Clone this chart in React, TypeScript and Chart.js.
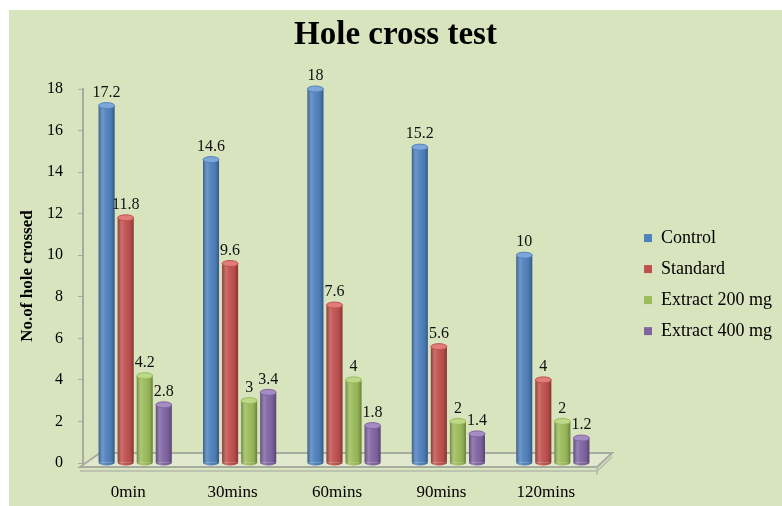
import React, { useEffect, useRef } from 'react';
import { Chart, registerables } from 'chart.js';

Chart.register(...registerables);

const categories = ['0min', '30mins', '60mins', '90mins', '120mins'];
const seriesNames = ['Control', 'Standard', 'Extract 200 mg', 'Extract 400 mg'];
const control = [17.2, 14.6, 18, 15.2, 10];
const standard = [11.8, 9.6, 7.6, 5.6, 4];
const extract200 = [4.2, 3, 4, 2, 2];
const extract400 = [2.8, 3.4, 1.8, 1.4, 1.2];
const seriesColors = ['#4f81bd', '#c0504d', '#9bbb59', '#8064a2'];
const capColors = ['#7ea6d8', '#e07c79', '#bcd98a', '#a48cc4'];
const yMin = 0;
const yMax = 18;
const yStep = 2;
const titleText = 'Hole cross test';
const yAxisTitle = 'No.of hole crossed';

const SERIF = '"Liberation Serif", "Times New Roman", serif';
const BG = '#d7e4bd';

const floorPlugin = {
  id: 'floor3d',
  beforeDatasetsDraw(chart: any) {
    const { ctx, chartArea: a } = chart;
    ctx.save();
    ctx.beginPath();
    ctx.moveTo(a.left - 3, a.bottom + 4);
    ctx.lineTo(a.left + 17, a.bottom - 10);
    ctx.lineTo(a.right + 7, a.bottom - 10);
    ctx.lineTo(a.right - 8, a.bottom + 4);
    ctx.closePath();
    ctx.fillStyle = 'rgba(230,236,215,0.6)';
    ctx.fill();
    ctx.strokeStyle = '#a8aca0';
    ctx.lineWidth = 2;
    ctx.stroke();
    ctx.beginPath();
    ctx.moveTo(a.left - 3, a.bottom + 8);
    ctx.lineTo(a.right - 8, a.bottom + 8);
    ctx.lineTo(a.right + 7, a.bottom - 6);
    ctx.strokeStyle = '#b4b8ac';
    ctx.lineWidth = 1.5;
    ctx.stroke();
    ctx.beginPath();
    ctx.moveTo(a.right - 8, a.bottom + 4);
    ctx.lineTo(a.right - 8, a.bottom + 12);
    ctx.stroke();
    ctx.restore();
  },
};

const cylinderPlugin = {
  id: 'cylinders',
  afterDatasetsDraw(chart: any) {
    const { ctx } = chart;
    ctx.save();
    chart.data.datasets.forEach((ds: any, di: number) => {
      const meta = chart.getDatasetMeta(di);
      if (meta.hidden) return;
      meta.data.forEach((el: any, i: number) => {
        const { x, y, base, width } = el.getProps(['x', 'y', 'base', 'width'], true);
        const l = x - width / 2;
        const r = x + width / 2;
        const ry = 3;
        ctx.beginPath();
        ctx.ellipse(x, base, width / 2, ry, 0, 0, Math.PI);
        ctx.fillStyle = seriesColors[di];
        ctx.fill();
        const g = ctx.createLinearGradient(l, 0, r, 0);
        g.addColorStop(0, 'rgba(0,0,0,0.28)');
        g.addColorStop(0.25, 'rgba(255,255,255,0.18)');
        g.addColorStop(0.45, 'rgba(255,255,255,0.05)');
        g.addColorStop(0.8, 'rgba(0,0,0,0.08)');
        g.addColorStop(1, 'rgba(0,0,0,0.32)');
        ctx.beginPath();
        ctx.moveTo(l, y);
        ctx.lineTo(r, y);
        ctx.lineTo(r, base);
        ctx.ellipse(x, base, width / 2, ry, 0, 0, Math.PI);
        ctx.closePath();
        ctx.fillStyle = g;
        ctx.fill();
        ctx.beginPath();
        ctx.ellipse(x, y, width / 2, ry, 0, 0, Math.PI * 2);
        ctx.fillStyle = capColors[di];
        ctx.fill();
        ctx.strokeStyle = seriesColors[di];
        ctx.lineWidth = 1;
        ctx.stroke();
        ctx.fillStyle = '#111111';
        ctx.font = '16px ' + SERIF;
        ctx.textAlign = 'center';
        ctx.textBaseline = 'bottom';
        ctx.fillText(String(ds.data[i]), x, y - 5);
      });
    });
    ctx.restore();
  },
};

export default function App() {
  const canvasRef = useRef<HTMLCanvasElement | null>(null);

  useEffect(() => {
    if (!canvasRef.current) return;
    const seriesData = [control, standard, extract200, extract400];
    const chart = new Chart(canvasRef.current, {
      type: 'bar',
      data: {
        labels: categories,
        datasets: seriesNames.map((name, i) => ({
          label: name,
          data: seriesData[i],
          backgroundColor: seriesColors[i],
          borderWidth: 0,
          categoryPercentage: 0.73,
          barPercentage: 0.84,
        })),
      },
      options: {
        responsive: true,
        maintainAspectRatio: false,
        animation: false,
        layout: { padding: 0 },
        plugins: {
          title: {
            display: true,
            text: titleText,
            color: '#000000',
            font: { family: SERIF, size: 33, weight: 'bold' },
            padding: { top: 6, bottom: 33.4 },
          },
          legend: {
            display: true,
            position: 'right',
            fullSize: false,
            align: 'center',
            maxWidth: 220,
            title: {
              display: true,
              text: ' ',
              font: { size: 1 },
              padding: { top: 16, bottom: 0 },
            },
            labels: {
              boxWidth: 8,
              boxHeight: 8,
              padding: 13,
              color: '#000000',
              font: { family: SERIF, size: 18 },
            },
          },
          tooltip: { enabled: false },
        },
        scales: {
          x: {
            grid: { display: false, drawTicks: false },
            border: { display: false },
            ticks: {
              color: '#000000',
              font: { family: SERIF, size: 17 },
              padding: 19,
              labelOffset: -7,
              maxRotation: 0,
            },
            afterFit: (s: any) => {
              s.height = 43;
            },
          },
          y: {
            min: yMin,
            max: yMax,
            ticks: {
              stepSize: yStep,
              color: '#000000',
              font: { family: SERIF, size: 16 },
              padding: 15,
            },
            grid: {
              display: true,
              drawOnChartArea: false,
              drawTicks: true,
              tickLength: 5,
              color: '#a8aca0',
            },
            border: { display: true, color: '#a8aca0', width: 2 },
            title: {
              display: true,
              text: yAxisTitle,
              color: '#000000',
              font: { family: SERIF, size: 17, weight: 'bold' },
              padding: { top: 8, bottom: 0 },
            },
            afterFit: (s: any) => {
              s.width = 74;
            },
          },
          innerSpacer: {
            type: 'linear',
            position: 'right',
            display: true,
            weight: 0,
            grid: { display: false, drawTicks: false },
            border: { display: false },
            ticks: { display: false },
            afterFit: (s: any) => {
              s.width = 26;
            },
          },
        },
      },
      plugins: [floorPlugin, cylinderPlugin],
    } as any);
    return () => chart.destroy();
  }, []);

  return (
    <div
      style={{
        position: 'absolute',
        left: 9,
        top: 10,
        width: 773,
        height: 496,
        background: BG,
      }}
    >
      <canvas ref={canvasRef} />
    </div>
  );
}
